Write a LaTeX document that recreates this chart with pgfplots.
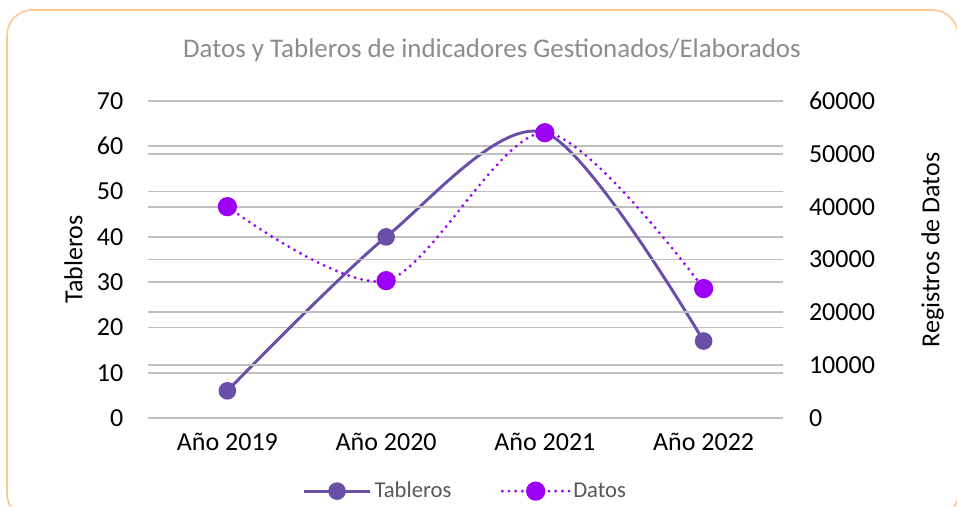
\documentclass[border=0pt]{standalone}
\usepackage{pgfplots}
\pgfplotsset{compat=1.18}
\usepackage{fontspec}
\setmainfont{Carlito}
\definecolor{tabl}{HTML}{6A4FA8}
\definecolor{dat}{HTML}{9C00F5}
\definecolor{gridc}{HTML}{BFBFBF}
\definecolor{zeroc}{HTML}{8C8C8C}
\definecolor{framec}{HTML}{FFC88F}
\definecolor{titlec}{HTML}{8C8C8C}
\definecolor{legc}{HTML}{595959}

\pgfplotsset{
  base/.style={
    at={(111pt,66.75pt)}, anchor=south west,
    scale only axis, width=476.25pt, height=237.75pt,
    xmin=-0.5, xmax=3.5,
    axis line style={draw=none}, tick style={draw=none},
    ymajorgrids, major grid style={gridc, line width=1.3pt},
    ticklabel style={font=\fontsize{19.5}{22}\selectfont, text=black},
    label style={font=\fontsize{19.5}{22}\selectfont, text=black},
    /pgf/number format/assume math mode=true,
    /pgf/number format/set thousands separator={},
    scaled y ticks=false,
  },
  dotline/.style={line width=2.4pt, line cap=round, dash pattern=on 0pt off 5pt},
}

\begin{document}
\begin{tikzpicture}[x=0.75pt,y=0.75pt]
\useasboundingbox (0,0) rectangle (957,507);
\draw[framec, line width=1.2pt, rounded corners=19pt] (7,-12) rectangle (958,497);
\node[text=titlec, font=\fontsize{20.2}{23}\selectfont] at (492,457) {Datos y Tableros de indicadores Gestionados/Elaborados};

\begin{axis}[base,
  ymin=0, ymax=70, ytick={0,10,...,70},
  xtick={0,1,2,3}, xticklabels={Año 2019,Año 2020,Año 2021,Año 2022},
  xticklabel style={yshift=-8pt},
  yticklabel style={xshift=-15pt},
  ylabel={Tableros}, ylabel style={yshift=4pt},
]
\draw[zeroc, line width=1.3pt] (axis cs:-0.5,0) -- (axis cs:3.5,0);
\addplot[tabl, line width=2.2pt, smooth, mark=*, mark size=5.5pt, mark options={solid, fill=tabl}]
  coordinates {(0,6) (1,40) (2,63) (3,17)};
\end{axis}

\begin{axis}[base,
  ymin=0, ymax=60000, ytick={0,10000,...,60000},
  axis y line*=right, axis x line=none,
  xtick=\empty,
  yticklabel style={xshift=16pt},
  ylabel={Registros de Datos}, ylabel style={yshift=-28pt, xshift=7pt},
  legend style={draw=white, fill=white, at={(0.5,-0.185)}, anchor=north,
    font=\fontsize{17}{19}\selectfont, text=legc},
  legend columns=2,
  /tikz/every even column/.append style={column sep=35pt},
  legend image code/.code={
    \draw[#1, mark repeat=2, mark phase=2] plot coordinates {(0pt,0pt) (25pt,0pt) (50pt,0pt)};
  },
]
\addlegendimage{tabl, line width=2.2pt, mark=*, mark size=5.5pt, mark options={solid, fill=tabl}}
\addlegendentry{Tableros}
\addplot[dat, dotline, smooth, mark=*, mark size=6pt, mark options={solid, fill=dat}]
  coordinates {(0,40000) (1,26000) (2,54000) (3,24500)};
\addlegendentry{Datos}
\end{axis}
\end{tikzpicture}
\end{document}
